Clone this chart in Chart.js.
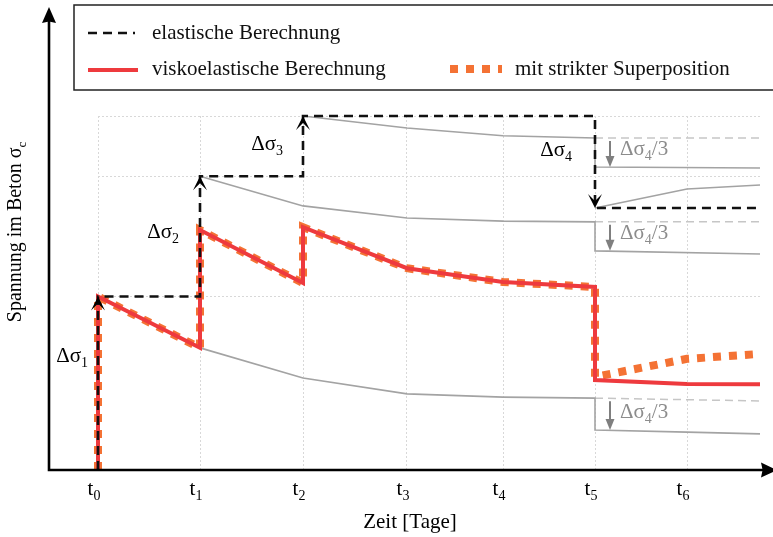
<!DOCTYPE html>
<html>
<head>
<meta charset="utf-8">
<script src="https://cdn.jsdelivr.net/npm/chart.js@4.4.1/dist/chart.umd.min.js"></script>
<style>
html, body { margin: 0; padding: 0; background: #fff; }
#wrap { width: 773px; height: 537px; position: relative; }
</style>
</head>
<body>
<div id="wrap"><canvas id="spannung"></canvas></div>
<script>
// Zeitpunkte der Lastwechsel
var tIndex = ["0", "1", "2", "3", "4", "5", "6"];
var tWerte = [0, 1.02, 2.05, 3.09, 4.05, 4.97, 5.89];
var xEnde = 6.62;
var yNiveaus = [0, 4.9, 8.3, 10];

// elastische Berechnung
var elX = [0, 0, 1.02, 1.02, 2.05, 2.05, 4.97, 4.97, 6.62];
var elY = [0, 4.9, 4.9, 8.3, 8.3, 10, 10, 7.4, 7.4];

// viskoelastische Berechnung
var vkX = [0, 0, 1.02, 1.02, 2.05, 2.05, 3.09, 4.05, 4.97, 4.97, 5.89, 6.62];
var vkY = [0, 4.9, 3.45, 6.78, 5.28, 6.86, 5.70, 5.31, 5.17, 2.54, 2.43, 2.42];

// mit strikter Superposition
var spX = [0, 0, 1.02, 1.02, 2.05, 2.05, 3.09, 4.05, 4.97, 4.97, 5.89, 6.62];
var spY = [0, 4.9, 3.45, 6.78, 5.28, 6.86, 5.70, 5.31, 5.17, 2.63, 3.14, 3.28];

// Kriechkurven (grau)
var k1X = [1.02, 2.05, 3.09, 4.05, 4.97, 4.97, 5.89, 6.62];
var k1Y = [3.45, 2.60, 2.15, 2.06, 2.03, 1.13, 1.07, 1.02];
var k2X = [1.02, 2.05, 3.09, 4.05, 4.97, 4.97, 6.62];
var k2Y = [8.3, 7.46, 7.12, 7.03, 7.01, 6.19, 6.10];
var k3X = [2.05, 3.09, 4.05, 4.97, 4.97, 6.62];
var k3Y = [10, 9.66, 9.44, 9.38, 8.56, 8.53];
var k4X = [4.97, 5.89, 6.62];
var k4Y = [7.4, 7.94, 8.05];
// fortgesetzte Kurven ohne Entlastung (gestrichelt)
var f1X = [4.97, 6.62], f1Y = [2.03, 1.95];
var f2X = [4.97, 6.62], f2Y = [7.01, 7.01];
var f3X = [4.97, 6.62], f3Y = [9.38, 9.38];

// Pfeile Δσ4/3
var pfeilX = 5.12;
var pfeilVon = [9.38, 7.01, 2.03];
var pfeilBis = [8.56, 6.19, 1.13];

var schrift = "'Liberation Serif', 'Times New Roman', serif";

function punkte(xs, ys) {
    return xs.map(function (x, i) { return { x: x, y: ys[i] }; });
}

function grau(xs, ys) {
    return { label: "", data: punkte(xs, ys), borderColor: "#a3a3a3", borderWidth: 1.6 };
}
function grauGestrichelt(xs, ys) {
    return { label: "", data: punkte(xs, ys), borderColor: "#c6c6c6", borderWidth: 1.5, borderDash: [8, 5] };
}

var datensaetze = [
    { label: "elastische Berechnung", data: punkte(elX, elY), borderColor: "#111111", borderWidth: 2.6, borderDash: [9, 6] },
    { label: "viskoelastische Berechnung", data: punkte(vkX, vkY), borderColor: "#ee3a3e", borderWidth: 4 },
    { label: "mit strikter Superposition", data: punkte(spX, spY), borderColor: "#f47234", borderWidth: 8, borderDash: [8, 8] },
    grau(k1X, k1Y), grau(k2X, k2Y), grau(k3X, k3Y), grau(k4X, k4Y),
    grauGestrichelt(f1X, f1Y), grauGestrichelt(f2X, f2Y), grauGestrichelt(f3X, f3Y)
];
datensaetze.forEach(function (d) {
    d.pointRadius = 0;
    d.tension = 0;
    d.fill = false;
    d.clip = false;
    d.borderCapStyle = "butt";
});

// Pfeilspitze, zeigt in Richtung winkel
function spitze(ctx, x, y, winkel, len, breite, tiefe, farbe) {
    ctx.save();
    ctx.translate(x, y);
    ctx.rotate(winkel);
    ctx.fillStyle = farbe;
    ctx.beginPath();
    ctx.moveTo(0, 0);
    ctx.lineTo(-len, -breite / 2);
    ctx.lineTo(-len * tiefe, 0);
    ctx.lineTo(-len, breite / 2);
    ctx.closePath();
    ctx.fill();
    ctx.restore();
}

// Text mit Tiefstellung: teile = [[text, tief], ...]
function textTeile(ctx, teile, x, y, ausr, groesse, farbe) {
    var klein = Math.round(groesse * 0.66);
    var breiten = teile.map(function (t) {
        ctx.font = (t[1] ? klein : groesse) + "px " + schrift;
        return ctx.measureText(t[0]).width;
    });
    var gesamt = breiten.reduce(function (a, b) { return a + b; }, 0);
    var start = x;
    if (ausr === "right") start = x - gesamt;
    if (ausr === "center") start = x - gesamt / 2;
    ctx.fillStyle = farbe;
    ctx.textAlign = "left";
    ctx.textBaseline = "alphabetic";
    teile.forEach(function (t, i) {
        ctx.font = (t[1] ? klein : groesse) + "px " + schrift;
        ctx.fillText(t[0], start, y + (t[1] ? 5 : 0));
        start += breiten[i];
    });
}

var zeichnen = {
    id: "zeichnen",
    afterDatasetsDraw: function (chart) {
        var ctx = chart.ctx;
        var xs = chart.scales.x, ys = chart.scales.y;
        var ca = chart.chartArea;
        var achseX = 49;

        ctx.save();
        // Achsen
        ctx.strokeStyle = "#000";
        ctx.lineWidth = 2.6;
        ctx.beginPath();
        ctx.moveTo(achseX, ca.bottom + 1.3);
        ctx.lineTo(achseX, 20);
        ctx.moveTo(achseX - 1.3, ca.bottom);
        ctx.lineTo(764, ca.bottom);
        ctx.stroke();
        spitze(ctx, achseX, 7, -Math.PI / 2, 16, 14, 0.9, "#000");
        spitze(ctx, 777, ca.bottom, 0, 16, 15, 0.9, "#000");

        // Pfeilspitzen der elastischen Sprünge
        for (var i = 1; i < elX.length; i++) {
            if (elX[i] === elX[i - 1] && elY[i] !== elY[i - 1]) {
                var px = xs.getPixelForValue(elX[i]);
                var py = ys.getPixelForValue(elY[i]);
                var w = elY[i] > elY[i - 1] ? -Math.PI / 2 : Math.PI / 2;
                spitze(ctx, px, py, w, 14, 14, 0.5, "#000");
            }
        }

        // graue Pfeile Δσ4/3
        var gx = xs.getPixelForValue(pfeilX);
        ctx.strokeStyle = "#7f7f7f";
        ctx.lineWidth = 2;
        for (var j = 0; j < pfeilVon.length; j++) {
            var y0 = ys.getPixelForValue(pfeilVon[j]) + 3;
            var y1 = ys.getPixelForValue(pfeilBis[j]);
            ctx.beginPath();
            ctx.moveTo(gx, y0);
            ctx.lineTo(gx, y1 - 6);
            ctx.stroke();
            spitze(ctx, gx, y1, Math.PI / 2, 11, 9, 1, "#7f7f7f");
            textTeile(ctx, [["Δσ", false], ["4", true], ["/3", false]], gx + 10, y1 - 12, "left", 21, "#8c8c8c");
        }

        // Δσ-Beschriftungen
        var dLab = [
            ["1", tWerte[0], 3.05, 10],
            ["2", tWerte[1], 6.55, 21],
            ["3", tWerte[2], 9.04, 20],
            ["4", tWerte[5], 8.87, 23]
        ];
        dLab.forEach(function (d) {
            textTeile(ctx, [["Δσ", false], [d[0], true]], xs.getPixelForValue(d[1]) - d[3], ys.getPixelForValue(d[2]), "right", 21, "#000");
        });

        // Achsenbeschriftung t_i
        tWerte.forEach(function (v, k) {
            textTeile(ctx, [["t", false], [tIndex[k], true]], xs.getPixelForValue(v) - 4, ca.bottom + 25, "center", 21, "#000");
        });
        textTeile(ctx, [["Zeit [Tage]", false]], 410, ca.bottom + 58, "center", 21, "#000");

        ctx.save();
        ctx.translate(21, 232);
        ctx.rotate(-Math.PI / 2);
        textTeile(ctx, [["Spannung im Beton σ", false], ["c", true]], 0, 0, "center", 20, "#000");
        ctx.restore();

        // Legende
        ctx.fillStyle = "#fff";
        ctx.fillRect(74, 5, 720, 85);
        ctx.strokeStyle = "#222";
        ctx.lineWidth = 1.5;
        ctx.strokeRect(74, 5, 720, 85);
        var leg = [
            [0, 88, 135, 33, 152, 39],
            [1, 88, 138, 70, 152, 75],
            [2, 450, 502, 69, 515, 75]
        ];
        leg.forEach(function (l) {
            var d = chart.data.datasets[l[0]];
            ctx.strokeStyle = d.borderColor;
            ctx.lineWidth = d.borderWidth;
            ctx.setLineDash(d.borderDash || []);
            ctx.lineCap = "butt";
            ctx.beginPath();
            ctx.moveTo(l[1], l[3]);
            ctx.lineTo(l[2], l[3]);
            ctx.stroke();
            ctx.setLineDash([]);
            textTeile(ctx, [[d.label, false]], l[4], l[5], "left", 21, "#111");
        });
        ctx.restore();
    }
};

var diagramm = new Chart(document.getElementById("spannung"), {
    type: "line",
    data: { datasets: datensaetze },
    options: {
        responsive: true,
        maintainAspectRatio: false,
        animation: false,
        devicePixelRatio: 1,
        layout: { padding: { left: 98, right: 13, top: 116, bottom: 67 } },
        plugins: { legend: { display: false }, tooltip: { enabled: false } },
        scales: {
            x: {
                type: "linear",
                min: 0,
                max: xEnde,
                afterBuildTicks: function (s) { s.ticks = tWerte.map(function (v) { return { value: v }; }); },
                ticks: { display: false },
                grid: { color: "#d8d8d8", lineWidth: 1, drawTicks: false },
                border: { display: false, dash: [2, 2] }
            },
            y: {
                type: "linear",
                min: 0,
                max: 10,
                afterBuildTicks: function (s) { s.ticks = yNiveaus.map(function (v) { return { value: v }; }); },
                ticks: { display: false },
                grid: { color: "#d8d8d8", lineWidth: 1, drawTicks: false },
                border: { display: false, dash: [2, 2] }
            }
        }
    },
    plugins: [zeichnen]
});
</script>
</body>
</html>
